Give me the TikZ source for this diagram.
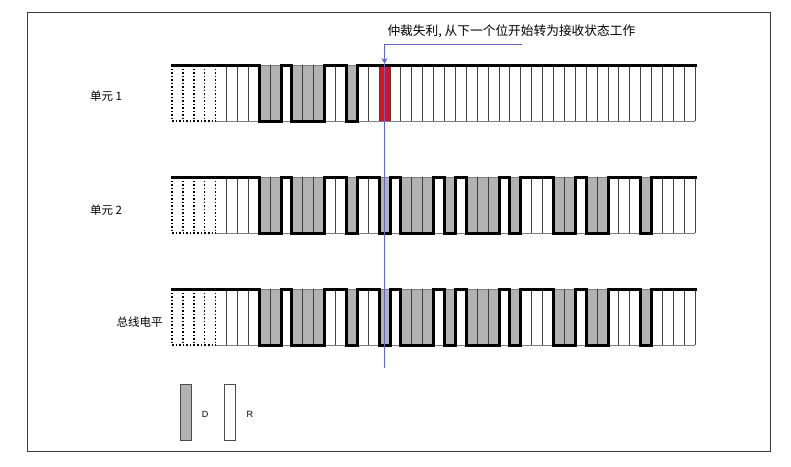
\documentclass[tikz,border=0pt]{standalone}
\usepackage{fontspec}
\setmainfont{Liberation Sans}
\newfontfamily\cjk{Noto Sans CJK SC}
\usetikzlibrary{positioning, arrows.meta}
\definecolor{lostred}{RGB}{222,18,28}
\definecolor{bluemarkc}{RGB}{100,100,205}
\definecolor{framegray}{RGB}{60,60,60}
\tikzset{
	x=1pt,
	y=-1pt,
	dbit/.style= {
		fill=gray!60
	},
	lostbit/.style= {
		fill=lostred
	},
	bitsep/.style= {
		black!75,
		line width=0.9pt
	},
	idlesep/.style= {
		black,
		line width=1.5pt,
		dash pattern=on 1.5pt off 2pt
	},
	bitrail/.style= {
		gray,
		line width=0.7pt
	},
	wave/.style= {
		black,
		line width=3pt,
		line cap=rect
	},
	rowlabel/.style= {
		font=\cjk\fontsize{11.5}{13}\selectfont
	},
	keybox/.style= {
		rectangle,
		draw=black!70,
		line width=0.8pt,
		minimum width=11pt,
		minimum height=56pt,
		inner sep=0pt
	},
	bluemark/.style= {
		bluemarkc,
		line width=1pt
	}
}
% 0 = R, 1 = D, 2 = lost bit (R, red)
\def\unitAbits{0,0,0,0,0,0,0,0,1,1,0,1,1,1,0,0,1,0,0,2,0,0,0,0,0,0,0,0,0,0,0,0,0,0,0,0,0,0,0,0,0,0,0,0,0,0,0,0}
\def\unitBbits{0,0,0,0,0,0,0,0,1,1,0,1,1,1,0,0,1,0,0,1,0,1,1,1,0,1,0,1,1,1,0,1,0,0,0,1,1,0,1,1,0,0,0,1,0,0,0,0}

\begin{document}
\begin{tikzpicture}

	\useasboundingbox (0,0) rectangle (791,466);
	\draw[framegray, line width=1.3pt] (27.3,12.3) rectangle (770.7,451.7);

	\foreach \rowtop/\rowbits in {65/\unitAbits, 177/\unitBbits, 289/\unitBbits}
	{
		\edef\curbits{\rowbits}
		\pgfmathsetmacro\rowbot{\rowtop+56}
		% fills and thin lines
		\foreach \lv [count=\i from 0] in \curbits
		{
			\pgfmathsetmacro\xa{172+\i*10.9}
			\pgfmathsetmacro\xb{\xa+10.9}
			\ifnum\lv=1 \fill[dbit] (\xa,\rowtop) rectangle (\xb,\rowbot); \fi
			\ifnum\lv=2 \fill[lostbit] (\xa,\rowtop) rectangle (\xb,\rowbot); \fi
			\draw[bitrail] (\xa,\rowtop) -- (\xb,\rowtop);
			\ifnum\i<4
				\draw[idlesep] (\xa,\rowbot) -- (\xb,\rowbot);
			\else
				\draw[bitrail] (\xa,\rowbot) -- (\xb,\rowbot);
			\fi
			\ifnum\i<5
				\draw[idlesep] (\xa,\rowtop) -- (\xa,\rowbot);
			\else
				\draw[bitsep] (\xa,\rowtop) -- (\xa,\rowbot);
			\fi
			\ifnum\i=47 \draw[bitsep] (\xb,\rowtop) -- (\xb,\rowbot); \fi
		}
		% level line
		\foreach \lv [count=\i from 0, remember=\lv as \prevlv (initially 0)] in \curbits
		{
			\pgfmathsetmacro\xa{172+\i*10.9}
			\pgfmathsetmacro\xb{\xa+10.9}
			\pgfmathtruncatemacro\cur{\lv==1}
			\pgfmathtruncatemacro\prv{\prevlv==1}
			\ifnum\cur=\prv\else \draw[wave] (\xa,\rowtop) -- (\xa,\rowbot); \fi
			\ifnum\cur=1
				\draw[wave] (\xa,\rowbot) -- (\xb,\rowbot);
			\else
				\draw[wave] (\xa,\rowtop) -- (\xb,\rowtop);
			\fi
		}
	}

	\node (lblA)[rowlabel] at (106,96) {单元 1};
	\node (lblB)[rowlabel] at (106,210) {单元 2};
	\node (lblBus)[rowlabel] at (139.5,322) {总线电平};

	\node (title)[rowlabel, anchor=west, font=\cjk\fontsize{12.7}{14}\selectfont] at (384,31.5) {仲裁失利, 从下一个位开始转为接收状态工作};

	\coordinate (bend) at (522,44.5);
	\coordinate (lostin) at (384.5,64);
	\coordinate (cutend) at (384.5,368);
	\draw[bluemark, -{Stealth[length=6pt, width=6pt]}] (bend) -| (lostin);
	\draw[bluemark] (lostin) -- (cutend);

	\node (keyD)[keybox, fill=gray!60] at (185.5,412.6) {};
	\node (keyR)[keybox, fill=white] at (230.3,412.6) {};
	\node (keyDtxt)[right=7pt of keyD, yshift=-2pt, font=\fontsize{9}{10}\selectfont] {D};
	\node (keyRtxt)[right=7pt of keyR, yshift=-2pt, font=\fontsize{9}{10}\selectfont] {R};

\end{tikzpicture}
\end{document}
